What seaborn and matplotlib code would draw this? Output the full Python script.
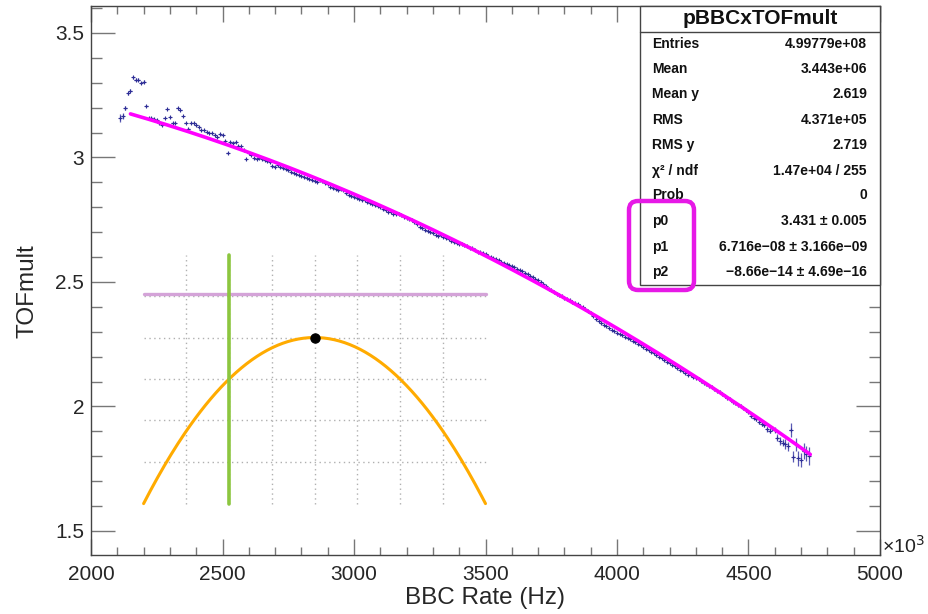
import numpy as np
import pandas as pd
import matplotlib
matplotlib.use("Agg")
import matplotlib.pyplot as plt
import seaborn as sns
from matplotlib.patches import FancyBboxPatch, Rectangle
from matplotlib.ticker import MultipleLocator, FuncFormatter

# ---------------- data (x in units of 10^3 Hz) ----------------
bbc_rate = list(range(2110, 4731, 10))
tof_mult = [
    3.158, 3.168, 3.200, 3.258, 3.268, 3.323, 3.312, 3.313, 3.300, 3.305,
    3.207, 3.160, 3.158, 3.156, 3.150, 3.138, 3.130, 3.160, 3.193, 3.163,
    3.140, 3.138, 3.200, 3.190, 3.165, 3.140, 3.115, 3.140, 3.140, 3.130,
    3.122, 3.110, 3.112, 3.103, 3.100, 3.098, 3.090, 3.082, 3.094, 3.092,
    3.066, 3.018, 3.062, 3.058, 3.062, 3.048, 3.045, 3.030, 2.994, 3.018,
    3.012, 2.998, 2.995, 2.996, 2.992, 2.988, 2.985, 2.980, 2.965, 2.962,
    2.968, 2.962, 2.958, 2.953, 2.950, 2.942, 2.936, 2.932, 2.928, 2.925,
    2.920, 2.916, 2.912, 2.908, 2.905, 2.902, 2.908, 2.905, 2.899, 2.893,
    2.880, 2.876, 2.872, 2.868, 2.873, 2.868, 2.856, 2.850, 2.845, 2.841,
    2.837, 2.832, 2.828, 2.828, 2.823, 2.818, 2.814, 2.809, 2.805, 2.800,
    2.793, 2.788, 2.783, 2.780, 2.775, 2.772, 2.772, 2.768, 2.763, 2.758,
    2.752, 2.748, 2.742, 2.732, 2.722, 2.716, 2.710, 2.705, 2.700, 2.696,
    2.690, 2.686, 2.688, 2.682, 2.676, 2.671, 2.666, 2.661, 2.656, 2.652,
    2.654, 2.650, 2.646, 2.638, 2.635, 2.628, 2.622, 2.620, 2.618, 2.614,
    2.606, 2.601, 2.597, 2.591, 2.587, 2.581, 2.578, 2.573, 2.568, 2.563,
    2.560, 2.553, 2.547, 2.543, 2.537, 2.531, 2.525, 2.519, 2.513, 2.507,
    2.500, 2.493, 2.484, 2.472, 2.466, 2.460, 2.452, 2.448, 2.442, 2.436,
    2.432, 2.426, 2.418, 2.414, 2.410, 2.404, 2.398, 2.390, 2.384, 2.376,
    2.363, 2.350, 2.343, 2.335, 2.328, 2.322, 2.316, 2.309, 2.302, 2.296,
    2.293, 2.287, 2.281, 2.277, 2.270, 2.264, 2.258, 2.251, 2.245, 2.239,
    2.232, 2.225, 2.219, 2.213, 2.206, 2.200, 2.193, 2.187, 2.180, 2.174,
    2.168, 2.161, 2.154, 2.148, 2.141, 2.134, 2.128, 2.126, 2.119, 2.114,
    2.110, 2.102, 2.096, 2.090, 2.082, 2.078, 2.070, 2.064, 2.058, 2.050,
    2.044, 2.036, 2.030, 2.020, 2.014, 2.006, 2.000, 1.994, 1.986, 1.978,
    1.962, 1.955, 1.948, 1.938, 1.930, 1.925, 1.908, 1.902, 1.912, 1.906,
    1.875, 1.862, 1.855, 1.848, 1.840, 1.905, 1.798, 1.848, 1.792, 1.785,
    1.820, 1.810, 1.802,
]
tof_err = ([0.015, 0.012, 0.008, 0.006, 0.006, 0.006, 0.006, 0.005, 0.005, 0.005]
           + [0.003] * 230
           + [0.006, 0.006, 0.007, 0.007, 0.008, 0.008, 0.009, 0.010, 0.010, 0.011]
           + [0.014, 0.016, 0.015, 0.020, 0.018, 0.028, 0.022, 0.025, 0.030, 0.028,
              0.032, 0.030, 0.035])
bin_half_width = 5

fit_params = [3.431, 6.716e-08, -8.66e-14]   # p0, p1, p2 (x in Hz)
fit_range = [2150, 4735]

stats_title = "pBBCxTOFmult"
stats_labels = ["Entries", "Mean", "Mean y", "RMS", "RMS y", "χ² / ndf", "Prob",
                "p0", "p1", "p2"]
stats_values = ["4.99779e+08", "3.443e+06", "2.619", "4.371e+05", "2.719",
                "1.47e+04 / 255", "0", "3.431 ± 0.005",
                "6.716e−08 ± 3.166e−09", "−8.66e−14 ± 4.69e−16"]

# inset illustration (data coordinates)
inset_x = [2200, 3500]
inset_y = [1.61, 2.61]
inset_vgrid = [2362.5, 2525, 2687.5, 2850, 3012.5, 3175, 3337.5]
inset_hgrid = [1.777, 1.944, 2.110, 2.277, 2.444]
parabola_vertex = [2850, 2.277]
green_x = 2525
purple_y = 2.45

# ---------------- styling ----------------
sns.set_theme(style="ticks")
plt.rcParams['font.family'] = ['Liberation Sans', 'DejaVu Sans']
plt.rcParams['axes.linewidth'] = 1.0

W, H = 929, 614
fig = plt.figure(figsize=(W / 100, H / 100), dpi=100)
fig.patch.set_facecolor('white')
ax = fig.add_axes([91 / W, 1 - 555 / H, (880 - 91) / W, (555 - 6) / H])
ax.set_facecolor('white')

# profile points
df = pd.DataFrame({"x": bbc_rate, "y": tof_mult, "err": tof_err})
ax.errorbar(df["x"], df["y"], yerr=df["err"], xerr=bin_half_width, fmt='+',
            ms=3.5, mew=0.8, color='#2e2e96', ecolor='#5a5ab4', elinewidth=0.9,
            capsize=0, zorder=3)

# fit curve
xf = np.linspace(fit_range[0], fit_range[1], 300)
X = xf * 1e3
yf = fit_params[0] + fit_params[1] * X + fit_params[2] * X ** 2
sns.lineplot(x=xf, y=yf, color='#ff00ff', lw=2.6, ax=ax, zorder=4)

# inset illustration
for gx in inset_vgrid:
    ax.plot([gx, gx], inset_y, color='#b0b0b0', lw=1.0, ls=(0, (1, 2.5)), zorder=1)
for gy in inset_hgrid:
    ax.plot(inset_x, [gy, gy], color='#b0b0b0', lw=1.0, ls=(0, (1, 2.5)), zorder=1)
xp = np.linspace(inset_x[0], inset_x[1], 200)
half = (inset_x[1] - inset_x[0]) / 2
yp = parabola_vertex[1] - (parabola_vertex[1] - inset_y[0]) * ((xp - parabola_vertex[0]) / half) ** 2
sns.lineplot(x=xp, y=yp, color='#ffab00', lw=2.2, ax=ax, zorder=2)
ax.plot(inset_x, [purple_y, purple_y], color='#d4a3d8', lw=2.4, zorder=2)
ax.plot([green_x, green_x], inset_y, color='#8cc63f', lw=2.6, zorder=2)
ax.plot([parabola_vertex[0]], [parabola_vertex[1]], 'o', color='black', ms=6.5, zorder=5)

# axes
ax.set_xlim(2000, 5000)
ax.set_ylim(1.4036, 3.6084)
ax.xaxis.set_major_locator(MultipleLocator(500))
ax.xaxis.set_minor_locator(MultipleLocator(100))
ax.yaxis.set_major_locator(MultipleLocator(0.5))
ax.yaxis.set_minor_locator(MultipleLocator(0.1))
ax.yaxis.set_major_formatter(FuncFormatter(lambda v, p: f"{v:g}"))
ax.xaxis.set_major_formatter(FuncFormatter(lambda v, p: f"{v:g}"))
ax.tick_params(axis='both', which='both', direction='in', top=True, right=True,
               color='#777777', width=1.0)
ax.tick_params(axis='x', which='major', length=11.5, labelsize=15, pad=7)
ax.tick_params(axis='x', which='minor', length=5.8)
ax.tick_params(axis='y', which='major', length=17, labelsize=15, pad=5)
ax.tick_params(axis='y', which='minor', length=8)
for s in ax.spines.values():
    s.set_color('#444444')
ax.set_xlabel("BBC Rate (Hz)", fontsize=17.5)
ax.set_ylabel("TOFmult", fontsize=17.5)
ax.xaxis.set_label_coords(0.5, -0.058)
ax.yaxis.set_label_coords(-0.067, 0.48)

# overlay in pixel coordinates
ov = fig.add_axes([0, 0, 1, 1], zorder=10)
ov.set_xlim(0, W)
ov.set_ylim(H, 0)
ov.axis('off')
ov.patch.set_alpha(0)

ov.text(882, 546, "×10$^3$", fontsize=14, ha='left', va='center', color='#222222')

# stats box
ov.add_patch(Rectangle((640, 6), 240, 279, facecolor='white', edgecolor='#444444', lw=1.0))
ov.plot([640, 880], [32, 32], color='#444444', lw=1.0)
ov.text(760, 19, stats_title, fontsize=15, fontweight='bold', ha='center', va='center',
        color='#111111')
row_y = [44, 69, 94, 120, 145, 171, 195, 221, 247, 272]
for lab, val, yy in zip(stats_labels, stats_values, row_y):
    ov.text(652, yy, lab, fontsize=10, fontweight='bold', ha='left', va='center',
            color='#111111')
    ov.text(867, yy, val, fontsize=10, fontweight='bold', ha='right', va='center',
            color='#111111')

ov.add_patch(FancyBboxPatch((629, 201), 65, 89, boxstyle="round,pad=0,rounding_size=9",
                            facecolor='none', edgecolor='#e619e6', lw=3.2))

fig.savefig("out.png", dpi=100, facecolor='white')
